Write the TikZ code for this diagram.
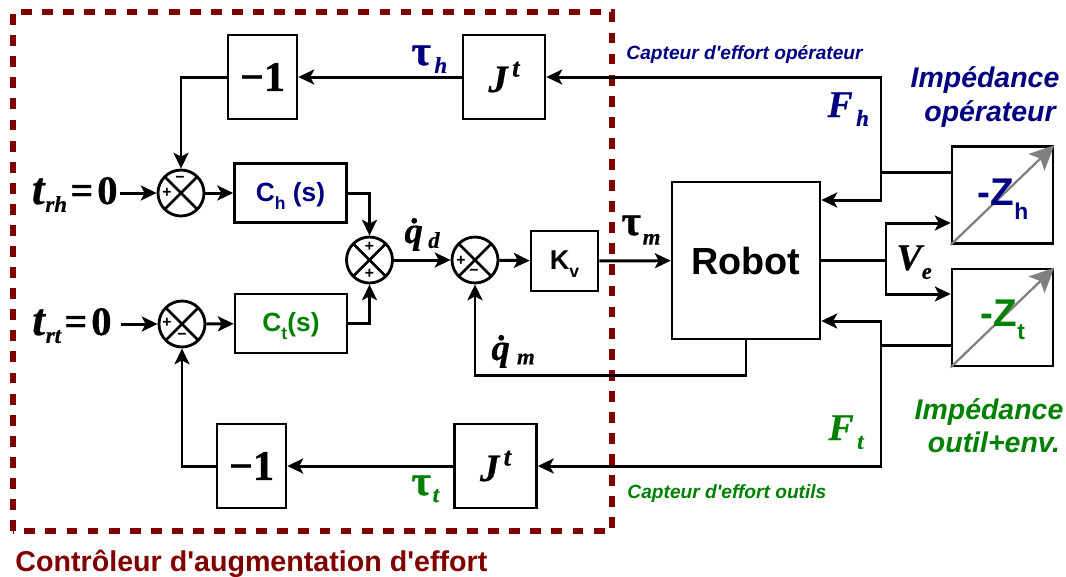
\documentclass[tikz,border=0pt]{standalone}
\usepackage{fontspec}
\setmainfont{Liberation Sans}[Ligatures=TeXOff]
\newfontfamily\timesf{Liberation Serif}[BoldFeatures={FakeBold=0.8},BoldItalicFeatures={FakeBold=0.5}]
\usetikzlibrary{arrows.meta,calc}
\definecolor{bleu}{RGB}{0,0,128}
\definecolor{vert}{RGB}{0,128,0}
\definecolor{rouge}{RGB}{128,0,0}
% serif symbol with a detached subscript: base, sub, size, gap, drop
\newcommand{\symb}[5]{{\timesf\bfseries\itshape\fontsize{#3}{#3}\selectfont #1\hspace{#4}\raisebox{-#5}{\fontsize{13}{14}\selectfont #2}}}
\newcommand{\symt}[4]{{\timesf\bfseries\fontsize{24}{24}\selectfont #1\hspace{#3}\itshape\raisebox{-#4}{\fontsize{13}{14}\selectfont #2}}}

\begin{document}
\begin{tikzpicture}[x=0.02cm,y=-0.02cm,>={Stealth[length=9pt,width=8.5pt,inset=2.2pt]},line width=1.7pt,
 bloc/.style={draw,line width=1.5pt,inner sep=0pt,font=\bfseries},
 sum/.style={draw,circle,line width=1.6pt,inner sep=0pt,minimum size=0.92cm,
  path picture={\draw (path picture bounding box.north west) -- (path picture bounding box.south east);
   \draw (path picture bounding box.north east) -- (path picture bounding box.south west);}},
 sgn/.style={font=\bfseries\fontsize{9}{9}\selectfont,inner sep=0pt},
 gain/.style={bloc,minimum width=1.38cm,minimum height=1.68cm,font=\timesf\bfseries\fontsize{24}{24}\selectfont},
 transp/.style={bloc,minimum width=1.64cm,minimum height=1.68cm,font=\timesf\bfseries\itshape\fontsize{22}{22}\selectfont},
 ctrl/.style={bloc,minimum width=2.24cm,minimum height=1.18cm,text depth=1.5pt,font=\bfseries\fontsize{15}{15}\selectfont},
 imp/.style={bloc,minimum width=2.02cm,minimum height=1.94cm},
 impt/.style={font=\bfseries\fontsize{22}{22}\selectfont,inner sep=0pt},
 titre/.style={font=\bfseries\itshape\fontsize{16.2}{18.8}\selectfont,align=center,inner sep=0pt},
 capt/.style={font=\bfseries\itshape\fontsize{10.9}{12}\selectfont,inner sep=0pt,anchor=west},
 zero/.style={font=\timesf\bfseries\fontsize{23}{23}\selectfont,inner sep=0pt,anchor=base east},
 sig/.style={inner sep=0pt,anchor=base west}]
\useasboundingbox (0,0) rectangle (1066,576);
\node[gain] (g1) at (262.5,77) {−1};
\node[transp] (j1) at (504,77) {J\raisebox{0.4em}{\fontsize{15}{15}\selectfont\,t}};
\node[gain] (g2) at (251.5,466) {−1};
\node[transp] (j2) at (495.5,466) {J\raisebox{0.4em}{\fontsize{15}{15}\selectfont\,t}};
\node[ctrl,text=bleu] (ch) at (290.5,193) {C\raisebox{-0.3em}{\fontsize{10}{10}\selectfont h} (s)};
\node[ctrl,text=vert] (ct) at (291,323.5) {C\raisebox{-0.3em}{\fontsize{10}{10}\selectfont t}(s)};
\node[bloc,minimum width=1.34cm,minimum height=1.2cm,text depth=1.5pt,font=\bfseries\fontsize{15.5}{15}\selectfont] (kv) at (564.5,261) {K\raisebox{-0.3em}{\fontsize{10}{10}\selectfont v}};
\node[bloc,minimum width=2.96cm,minimum height=3.14cm,font=\bfseries\fontsize{21.5}{22}\selectfont] (robot) at (746,260.5) {Robot};
\node[imp] (zh) at (1002.5,195) {};
\node[imp] (zt) at (1002.5,317.5) {};
\node[sum] (s1) at (181,193) {};
\node[sum] (s2) at (182,324) {};
\node[sum] (s3) at (369.5,260) {};
\node[sum] (s4) at (475,260) {};
\node[sgn] (s1p) at (167,193) {+};
\node[sgn] (s1m) at (180,179) {−};
\node[sgn] (s2p) at (167,323) {+};
\node[sgn] (s2m) at (182,336) {−};
\node[sgn] (s3p) at (369.5,247) {+};
\node[sgn] (s3q) at (369.5,274) {+};
\node[sgn] (s4p) at (461,261) {+};
\node[sgn] (s4m) at (474,272) {−};
\draw[draw=rouge,line width=3.4pt,dash pattern=on 6.2pt off 5.8pt] (13,531) -- (13,12) -- (612,12) -- (612,531) -- cycle;
% entrees
\node[zero] (trh) at (119,204) {\symb{t}{rh}{26}{0.5pt}{4.5pt}\hspace{0.08em}=\hspace{0.1em}0};
\node[zero] (trt) at (113,335) {\symb{t}{rt}{26}{0.5pt}{4.5pt}\hspace{0.08em}=\hspace{0.1em}0};
\coordinate (trhout) at (120,193);
\coordinate (trtout) at (121,324);
\draw[->] (trhout) -- (s1);
\draw[->] (trtout) -- (s2);
\draw[->] (s1) -- (ch);
\draw[->] (s2) -- (ct);
\draw[->] (ch.east) -| (s3.north);
\draw[->] (ct.east) -| (s3.south);
\draw[->] (s3) -- (s4);
\draw[->] (s4) -- (kv);
\draw[->] (kv) -- (robot);
\draw[->] (g1.west) -| (s1.north);
\draw[->] (g2.west) -| (s2.south);
\draw[->] (j1) -- (g1);
\draw[->] (j2) -- (g2);
% retour vitesse
\coordinate (qm) at (robot.south |- 0,375);
\draw[->] (robot.south) -- (qm) -| (s4.south);
% efforts
\coordinate (fh) at (881,77);
\coordinate (fhr) at (881,200);
\coordinate (fhz) at (881,172);
\draw[->] (fhz -| zh.west) -- (fhz) -- (fhr) -- (fhr -| robot.east);
\draw[->] (fhz) -- (fh) -- (j1.east);
\coordinate (ft) at (881,466);
\coordinate (ftr) at (881,321);
\coordinate (ftz) at (881,345);
\draw[->] (ftz -| zt.west) -- (ftz) -- (ftr) -- (ftr -| robot.east);
\draw[->] (ftz) -- (ft) -- (j2.east);
\coordinate (ve) at (886,260);
\coordinate (veh) at (886,223);
\coordinate (vet) at (886,294);
\draw (robot.east |- ve) -- (ve);
\draw[->] (ve) -- (veh) -- (veh -| zh.west);
\draw[->] (ve) -- (vet) -- (vet -| zt.west);
% impedances
\draw[gray,->,>={Stealth[length=14pt,width=13pt,inset=3pt]},line width=1.3pt] (zh.south west) -- (zh.north east);
\draw[gray,->,>={Stealth[length=14pt,width=13pt,inset=3pt]},line width=1.3pt] (zt.south west) -- (zt.north east);
\node[impt,text=bleu] (zhl) at (1003,199) {-Z\raisebox{-0.35em}{\fontsize{13}{13}\selectfont h}};
\node[impt,text=vert] (ztl) at (1003,320) {-Z\raisebox{-0.35em}{\fontsize{13}{13}\selectfont t}};
\node[titre,text=bleu] (ih) at (985,97) {Impédance\\\hspace{0.2cm}opérateur};
\node[titre,text=vert] (it) at (989,426) {Impédance\\\hspace{0.2cm}outil+env.};
% signaux
\node[sig,text=bleu] (tauh) at (410,65) {\symt{τ}{h}{2pt}{4.5pt}};
\node[sig,text=vert] (taut) at (410,495) {\symt{τ}{t}{1pt}{4pt}};
\node[sig] (taum) at (620,235) {\symt{τ}{m}{1pt}{5.5pt}};
\node[sig] (qd) at (403,243) {\symb{\.q}{d}{21}{3pt}{2.8pt}};
\node[sig] (qm2) at (490,360) {\symb{\.q}{m}{21}{4pt}{2.5pt}};
\node[sig,text=bleu] (fhl) at (826,117) {\symb{F}{h}{21.5}{2pt}{5pt}};
\node[sig,text=vert] (ftl) at (827,440) {\symb{F}{t}{21.5}{2pt}{5pt}};
\node[sig] (vel) at (895,270) {\symb{V}{e}{21.5}{0pt}{5pt}};
\node[capt,text=bleu] (cap1) at (625,54.5) {Capteur d'effort opérateur};
\node[capt,text=vert] (cap2) at (626,494) {Capteur d'effort outils};
\node[text=rouge,inner sep=0pt,anchor=west,font=\bfseries\fontsize{16.3}{18}\selectfont] (leg) at (14,564) {Contrôleur d'augmentation d'effort};
\end{tikzpicture}
\end{document}
